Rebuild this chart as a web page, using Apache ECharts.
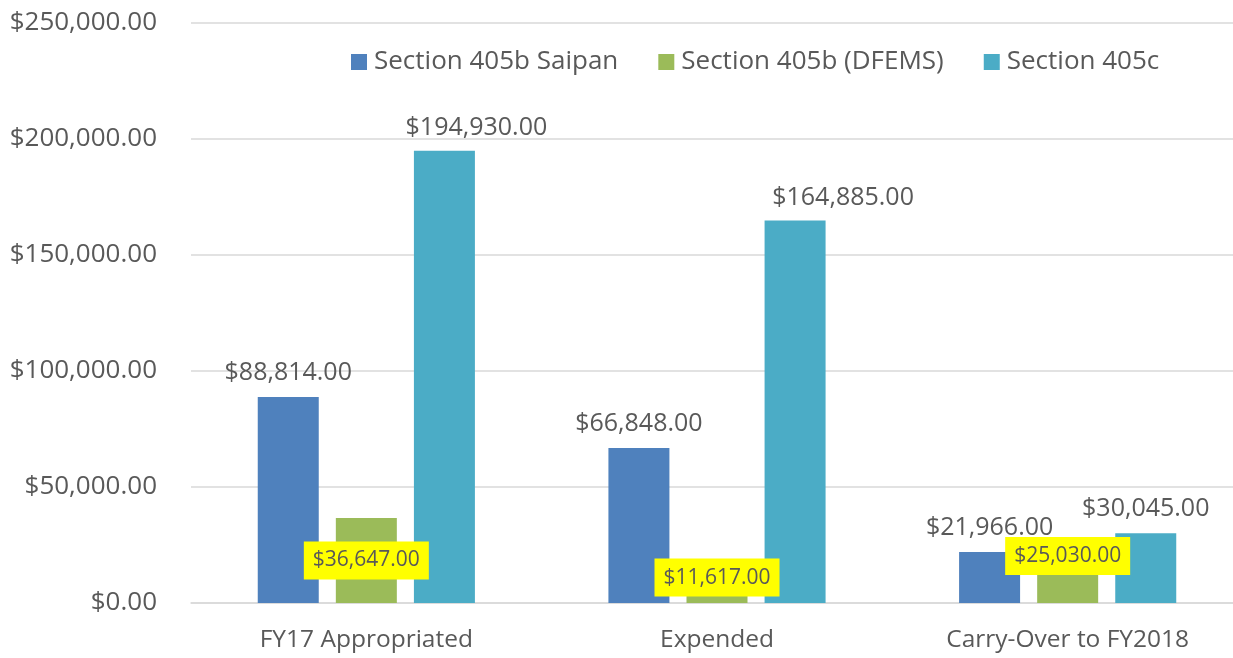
<!DOCTYPE html>
<html>
<head>
<meta charset="utf-8">
<script src="https://cdn.jsdelivr.net/npm/echarts@6/dist/echarts.min.js"></script>
<style>
  html, body { margin: 0; padding: 0; background: #fff; }
  #chart { width: 1233px; height: 658px; }
</style>
</head>
<body>
<div id="chart"></div>
<script>
// Grant funding by category
const categories = ['FY17 Appropriated', 'Expended', 'Carry-Over to FY2018'];
const seriesNames = ['Section 405b Saipan', 'Section 405b (DFEMS)', 'Section 405c'];
const saipan = [88814, 66848, 21966];
const dfems = [36647, 11617, 25030];
const sec405c = [194930, 164885, 30045];
const yTicks = [0, 50000, 100000, 150000, 200000, 250000];

const FONT = '"Open Sans", "Noto Sans", sans-serif';
const TEXT = '#595959';
const GRID = '#D9D9D9';
const COLORS = ['#4F81BD', '#9BBB59', '#4BACC6'];

function money(v) {
  const parts = Number(v).toFixed(2).split('.');
  parts[0] = parts[0].replace(/\B(?=(\d{3})+(?!\d))/g, ',');
  return '$' + parts.join('.');
}

const topLabel = {
  show: true,
  position: 'top',
  distance: 12,
  color: TEXT,
  fontFamily: FONT,
  fontSize: 25,
  formatter: p => money(p.value)
};

// highlighted labels sit inside the short green bars
const dfemsLabelShift = [[0, 0], [0, -12], [0, -18]];
const dfemsData = dfems.map((v, i) => ({
  value: v,
  label: { offset: dfemsLabelShift[i] }
}));

// the tall 405c labels are nudged to the right of their bars
const sec405cLabelShift = [[32, 2], [48, 2], [0, 0]];
const sec405cData = sec405c.map((v, i) => ({
  value: v,
  label: { offset: sec405cLabelShift[i] }
}));

const chart = echarts.init(document.getElementById('chart'));
chart.setOption({
  animation: false,
  color: COLORS,
  textStyle: { fontFamily: FONT, color: TEXT },
  legend: {
    data: seriesNames,
    left: 351,
    top: 49,
    padding: 0,
    icon: 'rect',
    itemWidth: 16,
    itemHeight: 16,
    itemGap: 40,
    textStyle: { fontFamily: FONT, fontSize: 26, color: TEXT, padding: [0, 0, 0, 2] }
  },
  grid: {
    left: 191, top: 23, bottom: 55, width: 1052,
    containLabel: false,
    outerBoundsMode: 'none'
  },
  xAxis: {
    type: 'category',
    data: categories,
    axisLine: { lineStyle: { color: GRID, width: 1.5 } },
    axisTick: { show: false },
    axisLabel: { color: TEXT, fontFamily: FONT, fontSize: 24.5, margin: 25 }
  },
  yAxis: {
    type: 'value',
    min: yTicks[0],
    max: yTicks[yTicks.length - 1],
    interval: yTicks[1] - yTicks[0],
    axisLine: { show: false },
    axisTick: { show: false },
    splitLine: { lineStyle: { color: GRID, width: 1.5 } },
    axisLabel: { color: TEXT, fontFamily: FONT, fontSize: 26, margin: 34, formatter: v => money(v) }
  },
  series: [
    {
      name: seriesNames[0], type: 'bar', data: saipan,
      barWidth: 61, barGap: '28%',
      label: topLabel
    },
    {
      name: seriesNames[1], type: 'bar', data: dfemsData,
      barWidth: 61, barGap: '28%',
      label: {
        show: true,
        position: 'inside',
        color: TEXT,
        fontFamily: FONT,
        fontSize: 21,
        backgroundColor: '#FFFF00',
        padding: [9, 9, 8, 9],
        formatter: p => money(p.value)
      }
    },
    {
      name: seriesNames[2], type: 'bar', data: sec405cData,
      barWidth: 61, barGap: '28%',
      label: topLabel
    }
  ]
});
</script>
</body>
</html>
